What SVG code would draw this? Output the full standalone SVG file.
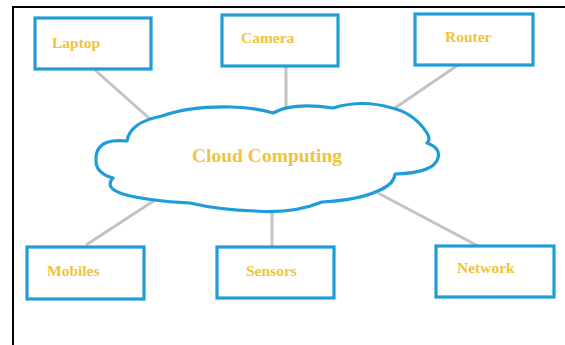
<svg xmlns="http://www.w3.org/2000/svg" width="565" height="345" viewBox="0 0 565 345">
  <style>
    .box { fill: #ffffff; stroke: #1e9dd8; stroke-width: 3.2; }
    .cloud { fill: #ffffff; stroke: #1e9dd8; stroke-width: 3.2; stroke-linejoin: round; }
    .label { font-family: "Liberation Serif", "Times New Roman", serif; font-weight: bold; font-size: 15.5px; fill: #f0c43a; }
    .title { font-family: "Liberation Serif", "Times New Roman", serif; font-weight: bold; font-size: 19.5px; fill: #f0c43a; }
    .link { stroke: #c3c3c3; stroke-width: 3; stroke-linecap: butt; }
    .frame { stroke: #000000; stroke-width: 2; fill: none; }
  </style>
  <rect width="565" height="345" fill="#ffffff"/>
  <!-- page frame: top and left edges -->
  <path class="frame" d="M13,345 V7 H565"/>

  <g id="connectors">
    <line class="link" x1="95" y1="70" x2="150" y2="119"/>
    <line class="link" x1="286" y1="67" x2="286" y2="110"/>
    <line class="link" x1="458" y1="65" x2="392" y2="110"/>
    <line class="link" x1="86" y1="245" x2="155" y2="200"/>
    <line class="link" x1="272" y1="208" x2="272" y2="247"/>
    <line class="link" x1="378" y1="193" x2="480" y2="247"/>
  </g>

  <g id="cloud">
    <path class="cloud" d="M100,147
      Q 106,139 127,141
      Q 130,122 162,116
      Q 190,106 232,107
      Q 257,108 273,113
      Q 292,102 333,108
      Q 362,99 392,108
      Q 414,113 427,133
      Q 431,140 427,143
      Q 441,148 438,158
      Q 434,173 395,174
      Q 394,184 380,190
      Q 360,200 322,202
      Q 292,214 255,211
      Q 220,210 190,203
      Q 148,201 123,194
      Q 104,188 113,178
      Q 95,173 96,159
      Q 96,151 100,147 Z"/>
    <text class="title" x="192" y="162">Cloud Computing</text>
  </g>

  <g id="laptop">
    <rect class="box" x="35" y="18" width="116" height="51"/>
    <text class="label" x="52" y="48">Laptop</text>
  </g>
  <g id="camera">
    <rect class="box" x="222" y="15" width="116" height="51"/>
    <text class="label" x="241" y="43">Camera</text>
  </g>
  <g id="router">
    <rect class="box" x="415" y="14" width="118" height="51"/>
    <text class="label" x="445" y="42">Router</text>
  </g>
  <g id="mobiles">
    <rect class="box" x="27" y="247" width="117" height="52"/>
    <text class="label" x="47" y="276">Mobiles</text>
  </g>
  <g id="sensors">
    <rect class="box" x="217" y="247" width="117" height="51"/>
    <text class="label" x="246" y="276">Sensors</text>
  </g>
  <g id="network">
    <rect class="box" x="436" y="246" width="118" height="51"/>
    <text class="label" x="457" y="273">Network</text>
  </g>
</svg>
